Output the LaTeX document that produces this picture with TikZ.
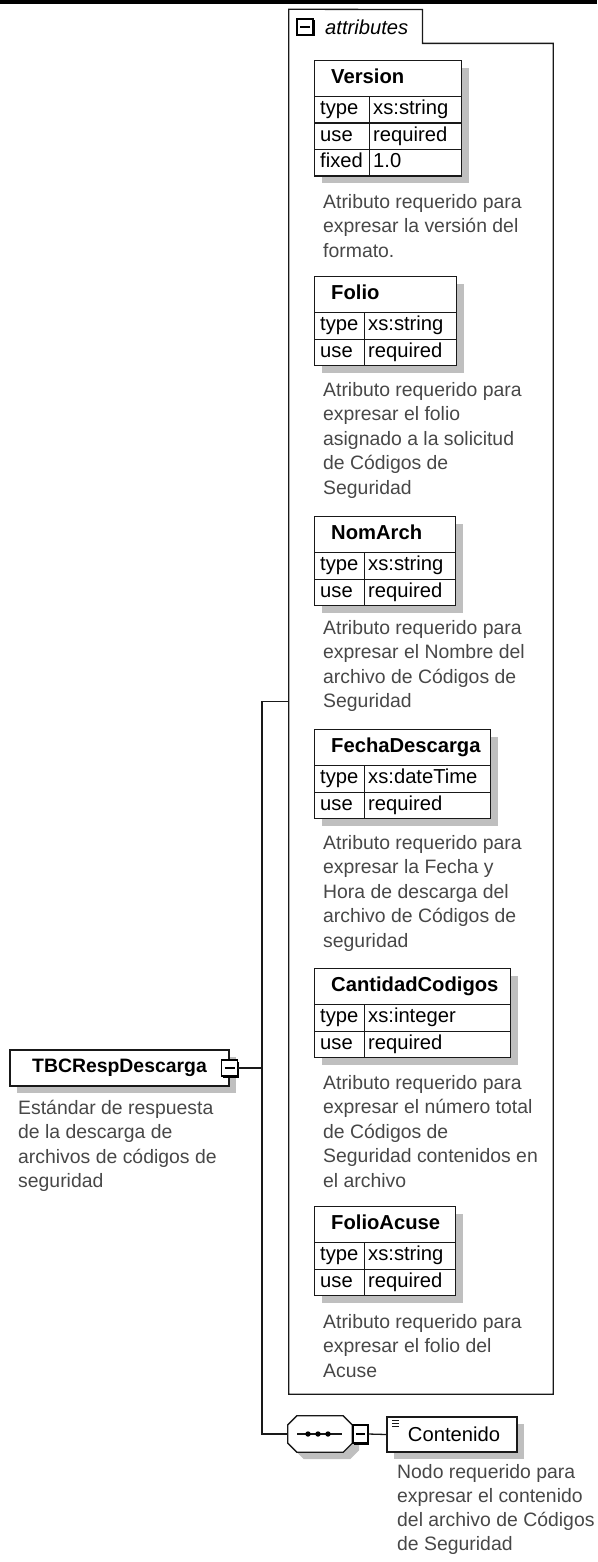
\documentclass[tikz,border=0pt]{standalone}
\usepackage{fontspec}
\setmainfont{Liberation Sans}
\usetikzlibrary{positioning,shadows,calc}

\newcommand{\dfont}{\fontsize{19.4}{24.5}\selectfont}
\newcommand{\tfont}{\fontsize{20.2}{24.5}\selectfont}

\tikzset{
  shade box/.style={drop shadow={shadow xshift=7pt, shadow yshift=-7pt, fill=black!25, opacity=1}},
  elem/.style={draw=black!90, line width=1.3pt, fill=white, shade box, inner sep=0pt},
  tabhead/.style={elem, anchor=north west, minimum height=36pt},
  tabcell/.style={elem, anchor=north west, minimum height=26.5pt},
  celltxt/.style={anchor=west, inner sep=0pt, text height=14pt, text depth=4pt, font=\tfont},
  headtxt/.style={celltxt, font=\tfont\bfseries},
  desc/.style={anchor=north west, inner sep=0pt, align=left, text=black!72, font=\dfont, execute at begin node=\strut},
  minusbox/.style={draw, line width=1.3pt, fill=white, minimum width=15pt, minimum height=16pt, inner sep=0pt,
    drop shadow={shadow xshift=1.5pt, shadow yshift=-1.5pt, fill=black, opacity=1},
    path picture={\draw[line width=1.3pt] ([xshift=3pt]path picture bounding box.west) -- ([xshift=-3pt]path picture bounding box.east);}},
  wire/.style={draw=black!90, line width=1.3pt}
}

% attribute table: name, top, width, key column width, title, rows
\newcommand{\attrtab}[6]{%
  \node[tabhead, minimum width=#3] (#1) at (314,#2) {};
  \node[headtxt] (#1-t) at ([xshift=17pt]#1.west) {#5};
  \foreach \k/\v [count=\i] in {#6} {
    \node[tabcell, minimum width=#4] (#1-k\i) at (314,#2+36+26.5*\i-26.5) {};
    \node[tabcell, minimum width=#3-#4] (#1-v\i) at (314+#4,#2+36+26.5*\i-26.5) {};
    \node[celltxt] (#1-kt\i) at ([xshift=6pt]#1-k\i.west) {\k};
    \node[celltxt] (#1-vt\i) at ([xshift=4pt]#1-v\i.west) {\v};
  }
}

\begin{document}
\begin{tikzpicture}[x=1pt, y=-1pt]
  \useasboundingbox (0,0) rectangle (597,1562);
  \fill (0,0) rectangle (597,4.5);

  % attributes group
  \node[minimum width=264pt, minimum height=1384.5pt, inner sep=0pt] (attrs) at (421,701.75) {};
  \node[anchor=north west, minimum width=133pt, minimum height=33.5pt, inner sep=0pt] (attrtab) at (289,9.5) {};
  \draw[wire] (attrs.south west) -- (attrs.north west) -- (attrtab.north east) -- (attrtab.south east)
    -- (attrtab.south east -| attrs.east) -- (attrs.south east) -- cycle;
  \node[minusbox, minimum width=16pt] (attrminus) at (305,27) {};
  \node[anchor=west, inner sep=0pt, font=\tfont\itshape] (attrlbl) at (325,27) {attributes};

  \attrtab{ver}{60}{147}{55}{Version}{type/xs:string, use/required, fixed/1.0}
  \node[desc] (verdesc) at (323,194) {Atributo requerido para\\expresar la versión del\\formato.};

  \attrtab{fol}{276}{142}{50}{Folio}{type/xs:string, use/required}
  \node[desc] (foldesc) at (323,382) {Atributo requerido para\\expresar el folio\\asignado a la solicitud\\de Códigos de\\Seguridad};

  \attrtab{nom}{516}{141}{50}{NomArch}{type/xs:string, use/required}
  \node[desc] (nomdesc) at (323,620) {Atributo requerido para\\expresar el Nombre del\\archivo de Códigos de\\Seguridad};

  \attrtab{fec}{729}{176}{50}{FechaDescarga}{type/xs:dateTime, use/required}
  \node[desc] (fecdesc) at (323,835) {Atributo requerido para\\expresar la Fecha y\\Hora de descarga del\\archivo de Códigos de\\seguridad};

  \attrtab{can}{968}{196}{50}{CantidadCodigos}{type/xs:integer, use/required}
  \node[desc] (candesc) at (323,1075) {Atributo requerido para\\expresar el número total\\de Códigos de\\Seguridad contenidos en\\el archivo};

  \attrtab{fac}{1206}{141}{50}{FolioAcuse}{type/xs:string, use/required}
  \node[desc] (facdesc) at (323,1314) {Atributo requerido para\\expresar el folio del\\Acuse};

  % root element
  \node[elem, minimum width=219pt, minimum height=36pt, font=\dfont\bfseries] (tbc) at (119.5,1068) {TBCRespDescarga};
  \node[minusbox, minimum width=16pt] (tbcminus) at (tbc.east) {};
  \node[desc] (tbcdesc) at (18,1100) {Estándar de respuesta\\de la descarga de\\archivos de códigos de\\seguridad};

  % sequence and child element
  \node[minimum width=64pt, minimum height=36pt, inner sep=0pt] (seq) at (320,1434) {};
  \draw[wire, fill=white, shade box] ([xshift=9pt]seq.north west) -- ([xshift=-9pt]seq.north east)
    -- ([yshift=-9pt]seq.north east) -- ([yshift=9pt]seq.south east) -- ([xshift=-9pt]seq.south east)
    -- ([xshift=9pt]seq.south west) -- ([yshift=9pt]seq.south west) -- ([yshift=-9pt]seq.north west) -- cycle;
  \draw[wire] ([xshift=-23pt]seq.center) -- ([xshift=22pt]seq.center);
  \foreach \dx in {-12,-2,8} \fill ([xshift=\dx pt]seq.center) circle (2.7pt);
  \node[minusbox, minimum height=18pt, anchor=west] (seqminus) at (seq.east) {};
  \node[elem, minimum width=130pt, minimum height=35pt, font=\tfont,
    path picture={\foreach \dy in {3,6,9} \draw[line width=0.9pt] ($(path picture bounding box.north west)+(5,\dy)$) -- ++(7,0);}]
    (cont) at (452,1434.5) {\hspace*{4pt}Contenido};
  \node[desc, font=\fontsize{19.4}{24.2}\selectfont] (contdesc) at (397,1464) {Nodo requerido para\\expresar el contenido\\del archivo de Códigos\\de Seguridad};

  % connectors
  \coordinate (bus) at (262,1068);
  \draw[wire] (tbcminus.east) -- (bus);
  \draw[wire] (attrs.west) -| (bus) |- (seq.west);
  \draw[wire] (seqminus.east) -- (cont.west);
\end{tikzpicture}
\end{document}
